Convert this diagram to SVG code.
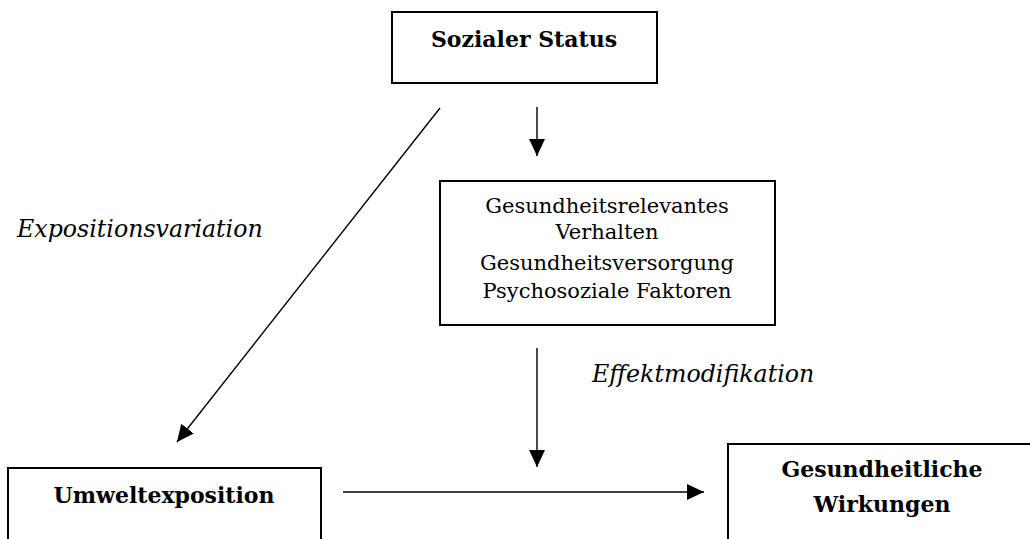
<svg xmlns="http://www.w3.org/2000/svg" width="1030" height="539" viewBox="0 0 1030 539">
<style>
.box{fill:#fff;stroke:#000;stroke-width:2}
.t{font-family:"DejaVu Serif","Liberation Serif",serif;fill:#000;text-anchor:middle}
.b{font-weight:bold;font-size:22px}
.n{font-size:21px}
.i{font-style:italic;font-size:23.7px;text-anchor:start}
.c{stroke:#000;stroke-width:1.4;fill:none}
</style>
<defs>
<marker id="ah" markerUnits="userSpaceOnUse" markerWidth="18" markerHeight="16" refX="17" refY="8" orient="auto">
<path d="M0,0 L17,8 L0,16 Z" fill="#000"/>
</marker>
</defs>
<rect width="1030" height="539" fill="#fff"/>
<g id="connectors">
<line class="c" x1="440" y1="108" x2="177" y2="442" marker-end="url(#ah)"/>
<line class="c" x1="537" y1="107" x2="537" y2="156" marker-end="url(#ah)"/>
<line class="c" x1="537" y1="348" x2="537" y2="467" marker-end="url(#ah)"/>
<line class="c" x1="343" y1="492" x2="704" y2="492" marker-end="url(#ah)"/>
</g>
<g id="node-sozialer-status">
<rect class="box" x="392" y="12" width="265" height="71"/>
<text class="t b" x="524" y="47">Sozialer Status</text>
</g>
<g id="node-faktoren">
<rect class="box" x="440" y="181" width="335" height="144"/>
<text class="t n" x="607" y="213">Gesundheitsrelevantes</text>
<text class="t n" x="607" y="239">Verhalten</text>
<text class="t n" x="607" y="270">Gesundheitsversorgung</text>
<text class="t n" x="607" y="298">Psychosoziale Faktoren</text>
</g>
<g id="node-umweltexposition">
<rect class="box" x="8" y="468" width="313" height="90"/>
<text class="t b" x="164" y="503">Umweltexposition</text>
</g>
<g id="node-wirkungen">
<rect class="box" x="728" y="444" width="320" height="110"/>
<text class="t b" x="882" y="477">Gesundheitliche</text>
<text class="t b" x="882" y="512">Wirkungen</text>
</g>
<g id="labels">
<text class="t i" x="17" y="237">Expositionsvariation</text>
<text class="t i" x="592" y="382">Effektmodifikation</text>
</g>
</svg>
